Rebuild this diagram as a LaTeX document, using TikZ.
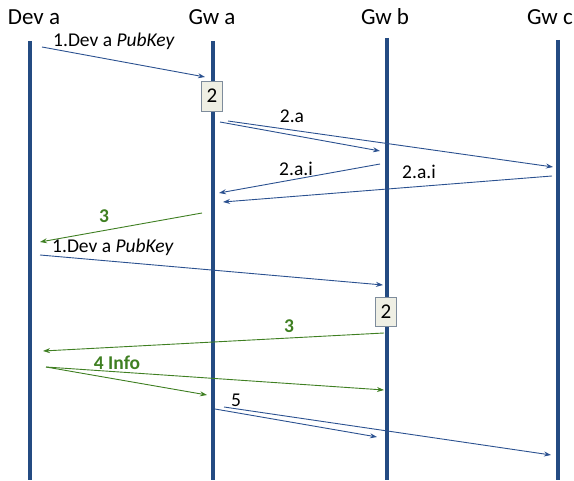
\documentclass[tikz,border=0pt]{standalone}
\usepackage{fontspec}
\setmainfont{Carlito}
\usetikzlibrary{arrows.meta}
\definecolor{lifeblue}{HTML}{244B82}
\definecolor{msgblue}{HTML}{2B5190}
\definecolor{msggreen}{HTML}{3F7F22}
\definecolor{boxfill}{HTML}{EFEFE4}
\definecolor{boxline}{HTML}{7E8C9C}

\begin{document}
\begin{tikzpicture}[x=1pt,y=-1pt,
  life/.style={draw=lifeblue, line width=4.5pt},
  msg/.style={draw=msgblue, line width=0.9pt, -{Stealth[length=7pt,width=5pt]}},
  rep/.style={draw=msggreen, line width=0.9pt, -{Stealth[length=7pt,width=5pt]}},
  head/.style={font=\fontsize{23}{27}\selectfont, inner sep=0pt},
  lbl/.style={font=\fontsize{19.5}{23}\selectfont, inner sep=0pt},
  glbl/.style={font=\fontsize{19.5}{23}\selectfont\bfseries, text=msggreen, inner sep=0pt},
  stepbox/.style={draw=boxline, fill=boxfill, line width=0.8pt, minimum width=21pt,
    minimum height=30pt, inner sep=0pt, font=\fontsize{21}{24}\selectfont}
]
\useasboundingbox (0,0) rectangle (574,481);

% participants
\node[head] (hDev) at (34,17) {Dev a};
\node[head] (hGwa) at (212,17) {Gw a};
\node[head] (hGwb) at (385,17) {Gw b};
\node[head] (hGwc) at (550,17) {Gw c};

% lifelines
\coordinate (devT) at (30,41);  \coordinate (devB) at (30,480);
\coordinate (gwaT) at (213,41); \coordinate (gwaB) at (213,480);
\coordinate (gwbT) at (387,38); \coordinate (gwbB) at (387,480);
\coordinate (gwcT) at (558,40); \coordinate (gwcB) at (558,480);
\draw[life] (devT) -- (devB);
\draw[life] (gwaT) -- (gwaB);
\draw[life] (gwbT) -- (gwbB);
\draw[life] (gwcT) -- (gwcB);

% processing steps
\node[stepbox] (s2a) at (212,96) {2};
\node[stepbox, minimum height=29pt] (s2b) at (386,312) {2};

% 1. key to Gw a
\coordinate (m1s) at (42,47);   \coordinate (m1e) at (205,77);
\draw[msg] (m1s) -- (m1e);
\node[lbl, anchor=west] (l1) at (53,41) {1.Dev a \textit{PubKey}};

% 2.a forwarding
\coordinate (m2as) at (220,122); \coordinate (m2ae) at (380,151);
\coordinate (m2bs) at (228,121); \coordinate (m2be) at (553,167);
\draw[msg] (m2as) -- (m2ae);
\draw[msg] (m2bs) -- (m2be);
\node[lbl] (l2a) at (292,116) {2.a};

% 2.a.i replies
\coordinate (r1s) at (380,164); \coordinate (r1e) at (219,193);
\coordinate (r2s) at (552,176); \coordinate (r2e) at (223,202);
\draw[msg] (r1s) -- (r1e);
\draw[msg] (r2s) -- (r2e);
\node[lbl] (l2ai) at (296,169) {2.a.i};
\node[lbl] (l2aii) at (419,172) {2.a.i};

% 3 back to Dev a
\coordinate (g3s) at (202,213); \coordinate (g3e) at (40,242);
\draw[rep] (g3s) -- (g3e);
\node[glbl] (l3) at (104,216) {3};

% 1. key to Gw b
\coordinate (n1s) at (40,255);  \coordinate (n1e) at (383,285);
\draw[msg] (n1s) -- (n1e);
\node[lbl, anchor=west] (l1b) at (52,247) {1.Dev a \textit{PubKey}};

% 3 from Gw b
\coordinate (h3s) at (384,333); \coordinate (h3e) at (43,351);
\draw[rep] (h3s) -- (h3e);
\node[glbl] (l3b) at (289,326) {3};

% 4 Info
\coordinate (i4s) at (46,367);
\coordinate (i4a) at (207,395); \coordinate (i4b) at (384,390);
\draw[rep] (i4s) -- (i4a);
\draw[rep] (i4s) -- (i4b);
\node[glbl] (l4) at (117,363) {4 Info};

% 5
\coordinate (f5s) at (215,409); \coordinate (f5e) at (377,437);
\coordinate (f6s) at (224,407); \coordinate (f6e) at (551,455);
\draw[msg] (f5s) -- (f5e);
\draw[msg] (f6s) -- (f6e);
\node[lbl] (l5) at (236,400) {5};
\end{tikzpicture}
\end{document}
